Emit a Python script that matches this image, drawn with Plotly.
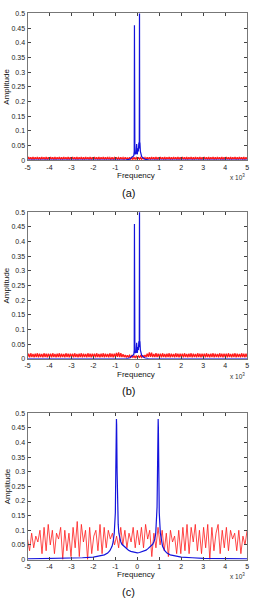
import numpy as np
import plotly.graph_objects as go

# ---------------- data ----------------
y_ticks = [0, 0.05, 0.1, 0.15, 0.2, 0.25, 0.3, 0.35, 0.4, 0.45, 0.5]
y_tick_labels = ["0", "0.05", "0.1", "0.15", "0.2", "0.25", "0.3", "0.35", "0.4", "0.45", "0.5"]
x_ticks = [-5, -4, -3, -2, -1, 0, 1, 2, 3, 4, 5]
x_tick_labels = ["-5", "-4", "-3", "-2", "-1", "0", "1", "2", "3", "4", "5"]
panel_labels = ["(a)", "(b)", "(c)"]

# blue spectrum, panels (a) and (b)
blue_ab_x = [-5, -1, -0.5, -0.35, -0.25, -0.2, -0.16, -0.14, -0.13, -0.12, -0.11, -0.09,
             -0.06, -0.03, 0.0, 0.03, 0.05, 0.07, 0.08, 0.09, 0.1, 0.11, 0.12, 0.14,
             0.17, 0.2, 0.25, 0.35, 0.5, 1, 5]
blue_ab_y = [0.0, 0.0, 0.001, 0.003, 0.008, 0.01, 0.015, 0.03, 0.46, 0.04, 0.02, 0.025,
             0.02, 0.055, 0.02, 0.04, 0.03, 0.06, 0.55, 0.05, 0.55, 0.04, 0.06, 0.03,
             0.02, 0.012, 0.008, 0.003, 0.001, 0.0, 0.0]

# red spectrum, panel (a): dense ripple band
red_a_rows = [
    "0.002 0.011 0.003 0.010 0.002 0.011 0.002 0.010 0.003 0.011 0.002 0.010 0.002 0.011 0.003 0.010 0.002 0.011 0.002 0.010",
    "0.002 0.011 0.003 0.010 0.002 0.011 0.002 0.010 0.003 0.011 0.002 0.010 0.002 0.011 0.003 0.010 0.002 0.011 0.002 0.010",
    "0.002 0.011 0.003 0.010 0.002 0.011 0.002 0.010 0.003 0.011 0.002 0.010 0.002 0.011 0.003 0.010 0.002 0.011 0.002 0.010",
    "0.002 0.011 0.003 0.010 0.002 0.011 0.002 0.010 0.003 0.011 0.002 0.010 0.002 0.011 0.003 0.009 0.002 0.010 0.003 0.009",
    "0.002 0.010 0.003 0.009 0.002 0.010 0.003 0.009 0.002 0.010 0.003 0.009 0.002 0.010 0.003 0.009 0.002 0.010 0.003 0.009",
    "0.002 0.010 0.003 0.009 0.002 0.010 0.003 0.009 0.002 0.010 0.003 0.010 0.002 0.011 0.003 0.010 0.002 0.011 0.002 0.010",
    "0.002 0.011 0.003 0.010 0.002 0.011 0.002 0.010 0.003 0.011 0.002 0.010 0.002 0.011 0.003 0.010 0.002 0.011 0.002 0.010",
    "0.002 0.011 0.003 0.010 0.002 0.011 0.002 0.010 0.003 0.011 0.002 0.010 0.002 0.011 0.003 0.010 0.002 0.011 0.002 0.010",
    "0.002 0.011 0.003 0.010 0.002 0.011 0.002 0.010 0.003 0.011 0.002 0.010 0.002 0.011 0.003 0.010 0.002 0.011 0.002 0.010",
    "0.002 0.011 0.003 0.010 0.002 0.011 0.002 0.010 0.003 0.011 0.002 0.010 0.002 0.011 0.003 0.010 0.002 0.011 0.002 0.010",
    "0.003",
]
red_a_y = [float(v) for row in red_a_rows for v in row.split()]

# red spectrum, panel (b): ripple band with bumps near the centre
red_b_rows = [
    "0.006 0.018 0.005 0.019 0.006 0.017 0.005 0.018 0.006 0.019 0.005 0.018 0.006 0.017 0.005 0.019 0.006 0.018 0.005 0.018",
    "0.006 0.018 0.005 0.019 0.006 0.017 0.005 0.018 0.006 0.019 0.005 0.018 0.006 0.017 0.005 0.019 0.006 0.018 0.005 0.018",
    "0.006 0.018 0.005 0.019 0.006 0.017 0.005 0.018 0.006 0.019 0.005 0.018 0.006 0.017 0.005 0.019 0.006 0.018 0.005 0.018",
    "0.006 0.018 0.005 0.019 0.006 0.017 0.005 0.018 0.006 0.019 0.005 0.018 0.006 0.017 0.005 0.019 0.006 0.018 0.005 0.018",
    "0.006 0.020 0.007 0.022 0.006 0.019 0.006 0.016 0.006 0.013 0.005 0.012 0.006 0.012 0.005 0.011 0.005 0.010 0.004 0.010",
    "0.004 0.010 0.005 0.011 0.005 0.012 0.006 0.013 0.006 0.018 0.007 0.022 0.007 0.021 0.006 0.017 0.006 0.019 0.006 0.018",
    "0.006 0.018 0.005 0.019 0.006 0.017 0.005 0.018 0.006 0.019 0.005 0.018 0.006 0.017 0.005 0.019 0.006 0.018 0.005 0.018",
    "0.006 0.018 0.005 0.019 0.006 0.017 0.005 0.018 0.006 0.019 0.005 0.018 0.006 0.017 0.005 0.019 0.006 0.018 0.005 0.018",
    "0.006 0.018 0.005 0.019 0.006 0.017 0.005 0.018 0.006 0.019 0.005 0.018 0.006 0.017 0.005 0.019 0.006 0.018 0.005 0.018",
    "0.006 0.018 0.005 0.019 0.006 0.017 0.005 0.018 0.006 0.019 0.005 0.018 0.006 0.017 0.005 0.019 0.006 0.018 0.005 0.018",
    "0.006",
]
red_b_y = [float(v) for row in red_b_rows for v in row.split()]

# blue spectrum, panel (c): two peaks near +/-0.95
blue_c_x = [-5, -4, -3, -2.5, -2, -1.7, -1.5, -1.35, -1.25, -1.15, -1.1, -1.05, -1.0, -0.98,
            -0.96, -0.95, -0.94, -0.92, -0.9, -0.87, -0.84, -0.8, -0.75, -0.7, -0.6, -0.5,
            -0.4, -0.3, -0.2, -0.1, 0.0, 0.1, 0.2, 0.3, 0.4, 0.5, 0.6, 0.7, 0.75, 0.8,
            0.84, 0.87, 0.9, 0.92, 0.94, 0.95, 0.96, 0.98, 1.0, 1.05, 1.1, 1.15, 1.25,
            1.35, 1.5, 1.7, 2, 2.5, 3, 4, 5]
blue_c_y = [0.002, 0.003, 0.004, 0.006, 0.008, 0.012, 0.016, 0.022, 0.03, 0.045, 0.06, 0.09,
            0.16, 0.3, 0.45, 0.48, 0.46, 0.3, 0.18, 0.12, 0.09, 0.07, 0.06, 0.052, 0.045,
            0.038, 0.032, 0.028, 0.026, 0.024, 0.023, 0.024, 0.026, 0.028, 0.032, 0.038,
            0.045, 0.052, 0.06, 0.07, 0.09, 0.12, 0.18, 0.3, 0.46, 0.48, 0.45, 0.3, 0.16,
            0.09, 0.06, 0.045, 0.03, 0.022, 0.016, 0.012, 0.008, 0.006, 0.004, 0.003, 0.002]

# red spectrum, panel (c): noisy ripple, evenly spaced from -5 to 5
red_c_y = [
    0.07, 0.03, 0.09, 0.04, 0.08, 0.06, 0.10, 0.02, 0.11, 0.03, 0.12,
    0.05, 0.10, 0.02, 0.09, 0.07, 0.11, 0.00, 0.10, 0.03, 0.09, 0.01,
    0.11, 0.04, 0.13, 0.01, 0.12, 0.06, 0.10, 0.00, 0.11, 0.02, 0.08,
    0.10, 0.03, 0.12, 0.02, 0.11, 0.04, 0.10, 0.07, 0.09, 0.05, 0.08,
    0.04, 0.11, 0.05, 0.10, 0.04, 0.09, 0.06, 0.11, 0.04, 0.10, 0.05,
    0.11, 0.04, 0.12, 0.07, 0.10, 0.01, 0.09, 0.04, 0.11, 0.05, 0.10,
    0.03, 0.09, 0.01, 0.10, 0.06, 0.08, 0.02, 0.10, 0.02, 0.11, 0.03,
    0.12, 0.02, 0.11, 0.06, 0.12, 0.03, 0.10, 0.02, 0.11, 0.04, 0.12,
    0.00, 0.11, 0.03, 0.09, 0.12, 0.02, 0.10, 0.04, 0.11, 0.03, 0.10,
    0.07, 0.09, 0.03, 0.10, 0.02, 0.08, 0.05, 0.10,
]

# ---------------- figure ----------------
W, H = 254, 608
BLUE = "#1414dc"
RED = "#ff1a1a"

def px(v):
    return v / W

def py(v):
    return 1 - v / H

panels = [  # top px, bottom px of each plot area
    (9.5, 158.0),
    (210.7, 359.0),
    (414.0, 562.0),
]
x_left, x_right = 25.0, 249.0

red_a_x = np.linspace(-5, 5, len(red_a_y))
red_b_x = np.linspace(-5, 5, len(red_b_y))
red_c_x = np.linspace(-5, 5, len(red_c_y))

fig = go.Figure()
series = [
    [(red_a_x, red_a_y, RED, 1.3), (blue_ab_x, blue_ab_y, BLUE, 1.2)],
    [(red_b_x, red_b_y, RED, 1.3), (blue_ab_x, blue_ab_y, BLUE, 1.2)],
    [(red_c_x, red_c_y, RED, 0.8), (blue_c_x, blue_c_y, BLUE, 1.2)],
]
for i, lines in enumerate(series):
    suffix = "" if i == 0 else str(i + 1)
    for (xs, ys, col, w) in lines:
        fig.add_trace(go.Scatter(x=list(xs), y=list(ys), mode="lines",
                                 line=dict(color=col, width=w),
                                 xaxis="x" + suffix, yaxis="y" + suffix,
                                 showlegend=False, hoverinfo="skip", cliponaxis=True))

layout = dict(width=W, height=H, margin=dict(l=0, r=0, t=0, b=0),
              paper_bgcolor="white", plot_bgcolor="white",
              font=dict(family="Liberation Sans, Arial, sans-serif", size=7, color="#222"))
axis_common = dict(showgrid=False, zeroline=False, showline=True, linecolor="#777",
                   linewidth=1, mirror="ticks", ticks="inside", ticklen=3,
                   tickcolor="#444", tickwidth=1, tickfont=dict(size=7, color="#222"))
annotations = []
for i, (top, bot) in enumerate(panels):
    suffix = "" if i == 0 else str(i + 1)
    layout["xaxis" + suffix] = dict(axis_common, domain=[px(x_left), px(x_right)],
                                    range=[-5, 5], tickvals=x_ticks, ticktext=x_tick_labels,
                                    anchor="y" + suffix)
    layout["yaxis" + suffix] = dict(axis_common, domain=[py(bot), py(top)],
                                    range=[0, 0.5], tickvals=y_ticks, ticktext=y_tick_labels,
                                    anchor="x" + suffix)
    annotations += [
        dict(text="Frequency", x=px(136), y=py(bot + 15.5), xref="paper", yref="paper",
             showarrow=False, font=dict(size=8, color="#111"), xanchor="center", yanchor="middle"),
        dict(text="Amplitude", x=px(4), y=py((top + bot) / 2), xref="paper", yref="paper",
             showarrow=False, textangle=-90, font=dict(size=8, color="#111"),
             xanchor="center", yanchor="middle"),
        dict(text="x 10<sup>3</sup>", x=px(249), y=py(bot + 17), xref="paper", yref="paper",
             showarrow=False, font=dict(size=6.5, color="#333"), xanchor="right", yanchor="middle"),
        dict(text=panel_labels[i], x=px(128), y=py(bot + 33), xref="paper", yref="paper",
             showarrow=False, font=dict(size=11, color="#111"), xanchor="center", yanchor="middle"),
    ]
layout["annotations"] = annotations
fig.update_layout(**layout)
fig.write_html("out.html")
